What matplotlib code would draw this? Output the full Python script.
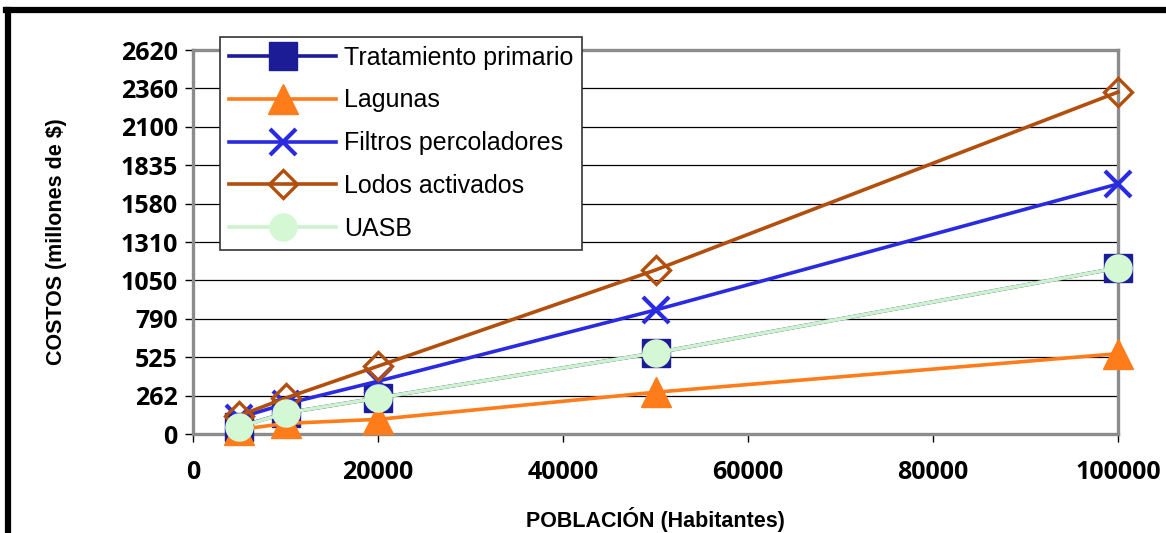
import matplotlib
matplotlib.use("Agg")
import matplotlib.pyplot as plt
from matplotlib.lines import Line2D
import numpy as np

# data
poblacion = [5000, 10000, 20000, 50000, 100000]
tratamiento_primario = [50, 143, 246, 553, 1133]
lagunas = [30, 72, 100, 285, 548]
filtros = [112, 205, 360, 846, 1706]
lodos = [125, 245, 463, 1119, 2333]
uasb = [48, 143, 246, 553, 1133]

y_tick_labels = ["0", "262", "525", "790", "1050", "1310", "1580", "1835", "2100", "2360", "2620"]
x_ticks = [0, 20000, 40000, 60000, 80000, 100000]

fig = plt.figure(figsize=(11.66, 5.33), dpi=100)
ax = fig.add_axes([193 / 1166, 1 - 434 / 533, (1118 - 193) / 1166, (434 - 50) / 533])

lw = 2.6
ax.plot(poblacion, tratamiento_primario, color="#1c1c96", lw=lw, marker="s", ms=20,
        mfc="#1c1c96", mec="#1c1c96", label="Tratamiento primario", clip_on=False, zorder=3)
ax.plot(poblacion, lagunas, color="#ff7c1a", lw=lw, marker="^", ms=21,
        mfc="#ff7c1a", mec="#ff7c1a", label="Lagunas", clip_on=False, zorder=3)
ax.plot(poblacion, filtros, color="#2a2ae0", lw=lw, marker="x", ms=19, mew=3,
        label="Filtros percoladores", clip_on=False, zorder=3)
ax.plot(poblacion, lodos, color="#b34f0c", lw=lw, marker="D", ms=14, mew=2.4,
        mfc="none", mec="#b34f0c", label="Lodos activados", clip_on=False, zorder=3)
ax.plot(poblacion, uasb, color="#cdf3cd", lw=lw, marker="o", ms=19.5,
        mfc="#d4f7d4", mec="#d4f7d4", label="UASB", clip_on=False, zorder=3)

y_ticks = np.linspace(0, 2620, len(y_tick_labels))
ax.set_ylim(0, 2620)
ax.set_xlim(0, 100000)
ax.set_yticks(y_ticks)
ax.set_yticklabels(y_tick_labels)
ax.set_xticks(x_ticks)
ax.set_xticklabels([str(v) for v in x_ticks])

for lab in ax.get_xticklabels() + ax.get_yticklabels():
    lab.set_fontfamily("Open Sans")
    lab.set_fontweight("bold")
    lab.set_fontsize(18)

ax.tick_params(axis="y", direction="out", length=6, width=1, pad=5)
ax.tick_params(axis="x", direction="out", length=6, width=1, pad=13)
ax.yaxis.grid(True, color="black", lw=0.9)
ax.set_axisbelow(True)
for s in ax.spines.values():
    s.set_color("#8c8c8c")
    s.set_linewidth(2.4)

ax.set_ylabel("COSTOS (millones de $)", family="Liberation Sans", weight="bold", fontsize=15.5)
ax.yaxis.set_label_coords((67 - 193) / 925, 0.5)
ax.set_xlabel("POBLACIÓN (Habitantes)", family="Liberation Sans", weight="bold", fontsize=15.5)
ax.xaxis.set_label_coords(0.5, -(507 - 434) / 384)

leg = ax.legend(loc="upper left", bbox_to_anchor=((220 - 193) / 925, 1 + (50 - 37) / 384),
                prop=dict(family="Liberation Sans", size=18), frameon=True, fancybox=False,
                framealpha=1, edgecolor="#333333", handlelength=4.3, handletextpad=0.3,
                labelspacing=0.75, borderpad=0.35, borderaxespad=0)
leg.get_frame().set_linewidth(1.2)
leg.set_zorder(5)

# black frame lines on the left and top of the picture
fig.add_artist(Line2D([8 / 1166, 8 / 1166], [0, 1 - 10 / 533], color="black", lw=4.5))
fig.add_artist(Line2D([6 / 1166, 1], [1 - 10 / 533, 1 - 10 / 533], color="black", lw=4.5))

fig.savefig("out.png", dpi=100)
